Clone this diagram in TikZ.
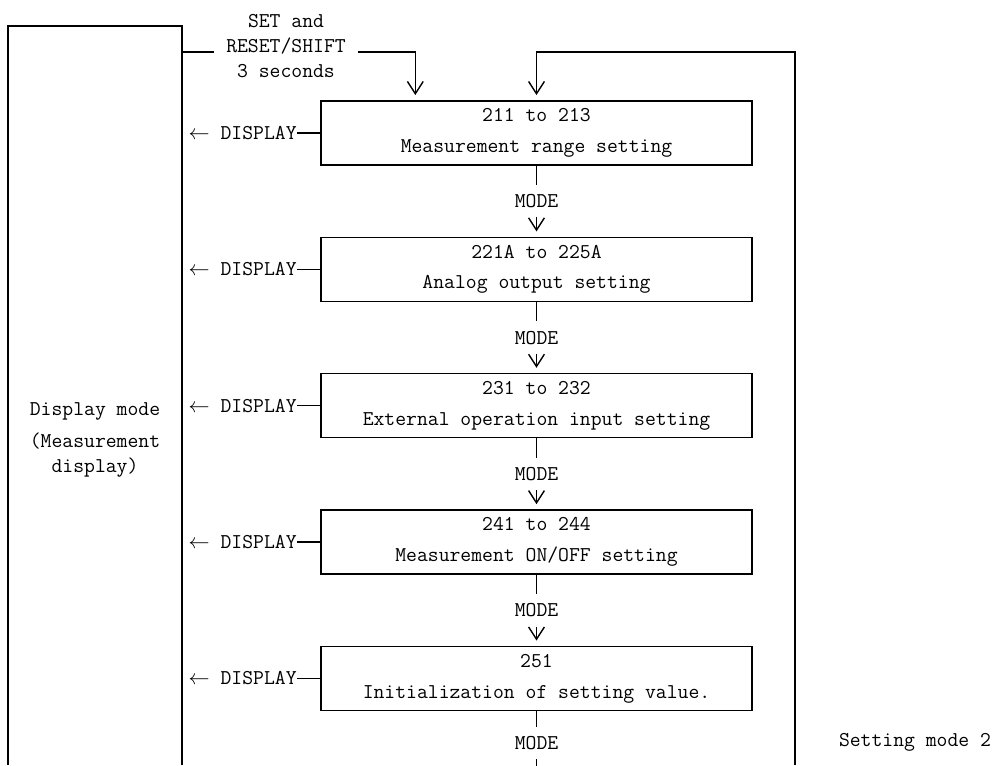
\documentclass[tikz,border=0pt]{standalone}
\usetikzlibrary{positioning,arrows.meta,calc}

\tikzset{
  setbox/.style={draw, minimum width=8.62cm, minimum height=1.28cm, align=center, inner sep=0pt},
  modelabel/.style={inner xsep=1pt, inner ysep=5pt},
  displabel/.style={inner sep=0pt},
  flow/.style={->, shorten >=3pt},
}

\begin{document}
\begin{tikzpicture}[x=0.02cm, y=-0.02cm, node distance=1.42cm, line width=0.8pt,
    font=\ttfamily\fontsize{12}{17.5}\selectfont,
    >={Straight Barb[length=7pt,width=9pt]}]
  \useasboundingbox (0,0) rectangle (998,765);

  % display mode frame
  \draw (8,765) -- (8,26) -- (182,26) -- (182,765);
  \node[align=center, font=\ttfamily\fontsize{12}{14.2}\selectfont] (dm) at (95,440)
    {Display mode\\[4pt](Measurement\\display)};

  % setting mode 2 boxes
  \node[setbox] (b1) at (536.5,133) {211 to 213\\Measurement range setting};
  \node[setbox, below=of b1] (b2) {221A to 225A\\Analog output setting};
  \node[setbox, below=of b2] (b3) {231 to 232\\External operation input setting};
  \node[setbox, below=of b3] (b4) {241 to 244\\Measurement ON/OFF setting};
  \node[setbox, below=of b4] (b5) {251\\Initialization of setting value.};

  % MODE steps
  \foreach \a/\b in {b1/b2,b2/b3,b3/b4,b4/b5} {
    \node[modelabel] (m\a) at ($(\a.south)!0.5!(\b.north)$) {MODE};
    \draw (\a) -- (m\a);
    \draw[flow] (m\a) -- (\b);
  }
  \node[modelabel] (mb5) at ([yshift=-0.64cm]b5.south) {MODE};
  \coordinate (mend) at ([yshift=-1cm]mb5.center);
  \draw (b5) -- (mb5);
  \draw (mb5) -- (mend);

  % DISPLAY returns
  \foreach \b in {b1,b2,b3,b4,b5} {
    \node[displabel, left=0.46cm of \b] (d\b) {$\leftarrow$ DISPLAY};
    \draw (d\b) -- (\b);
  }

  % entry
  \node[align=center, font=\ttfamily\fontsize{12}{14.2}\selectfont, inner xsep=6.5pt] (sr) at (286,46)
    {SET and\\RESET/SHIFT\\3 seconds};
  \coordinate (lt) at (182,52);
  \coordinate (e1) at ([xshift=1.9cm]b1.north west);
  \draw (lt) -- (lt -| sr.west);
  \draw[flow] (lt -| sr.east) -| (e1);

  % loop back
  \coordinate (rb) at (795,765);
  \coordinate (rt) at (795,52);
  \draw[flow] (rb) -- (rt) -| (b1.north);

  \node (sm) at (915,742) {Setting mode 2};
\end{tikzpicture}
\end{document}
